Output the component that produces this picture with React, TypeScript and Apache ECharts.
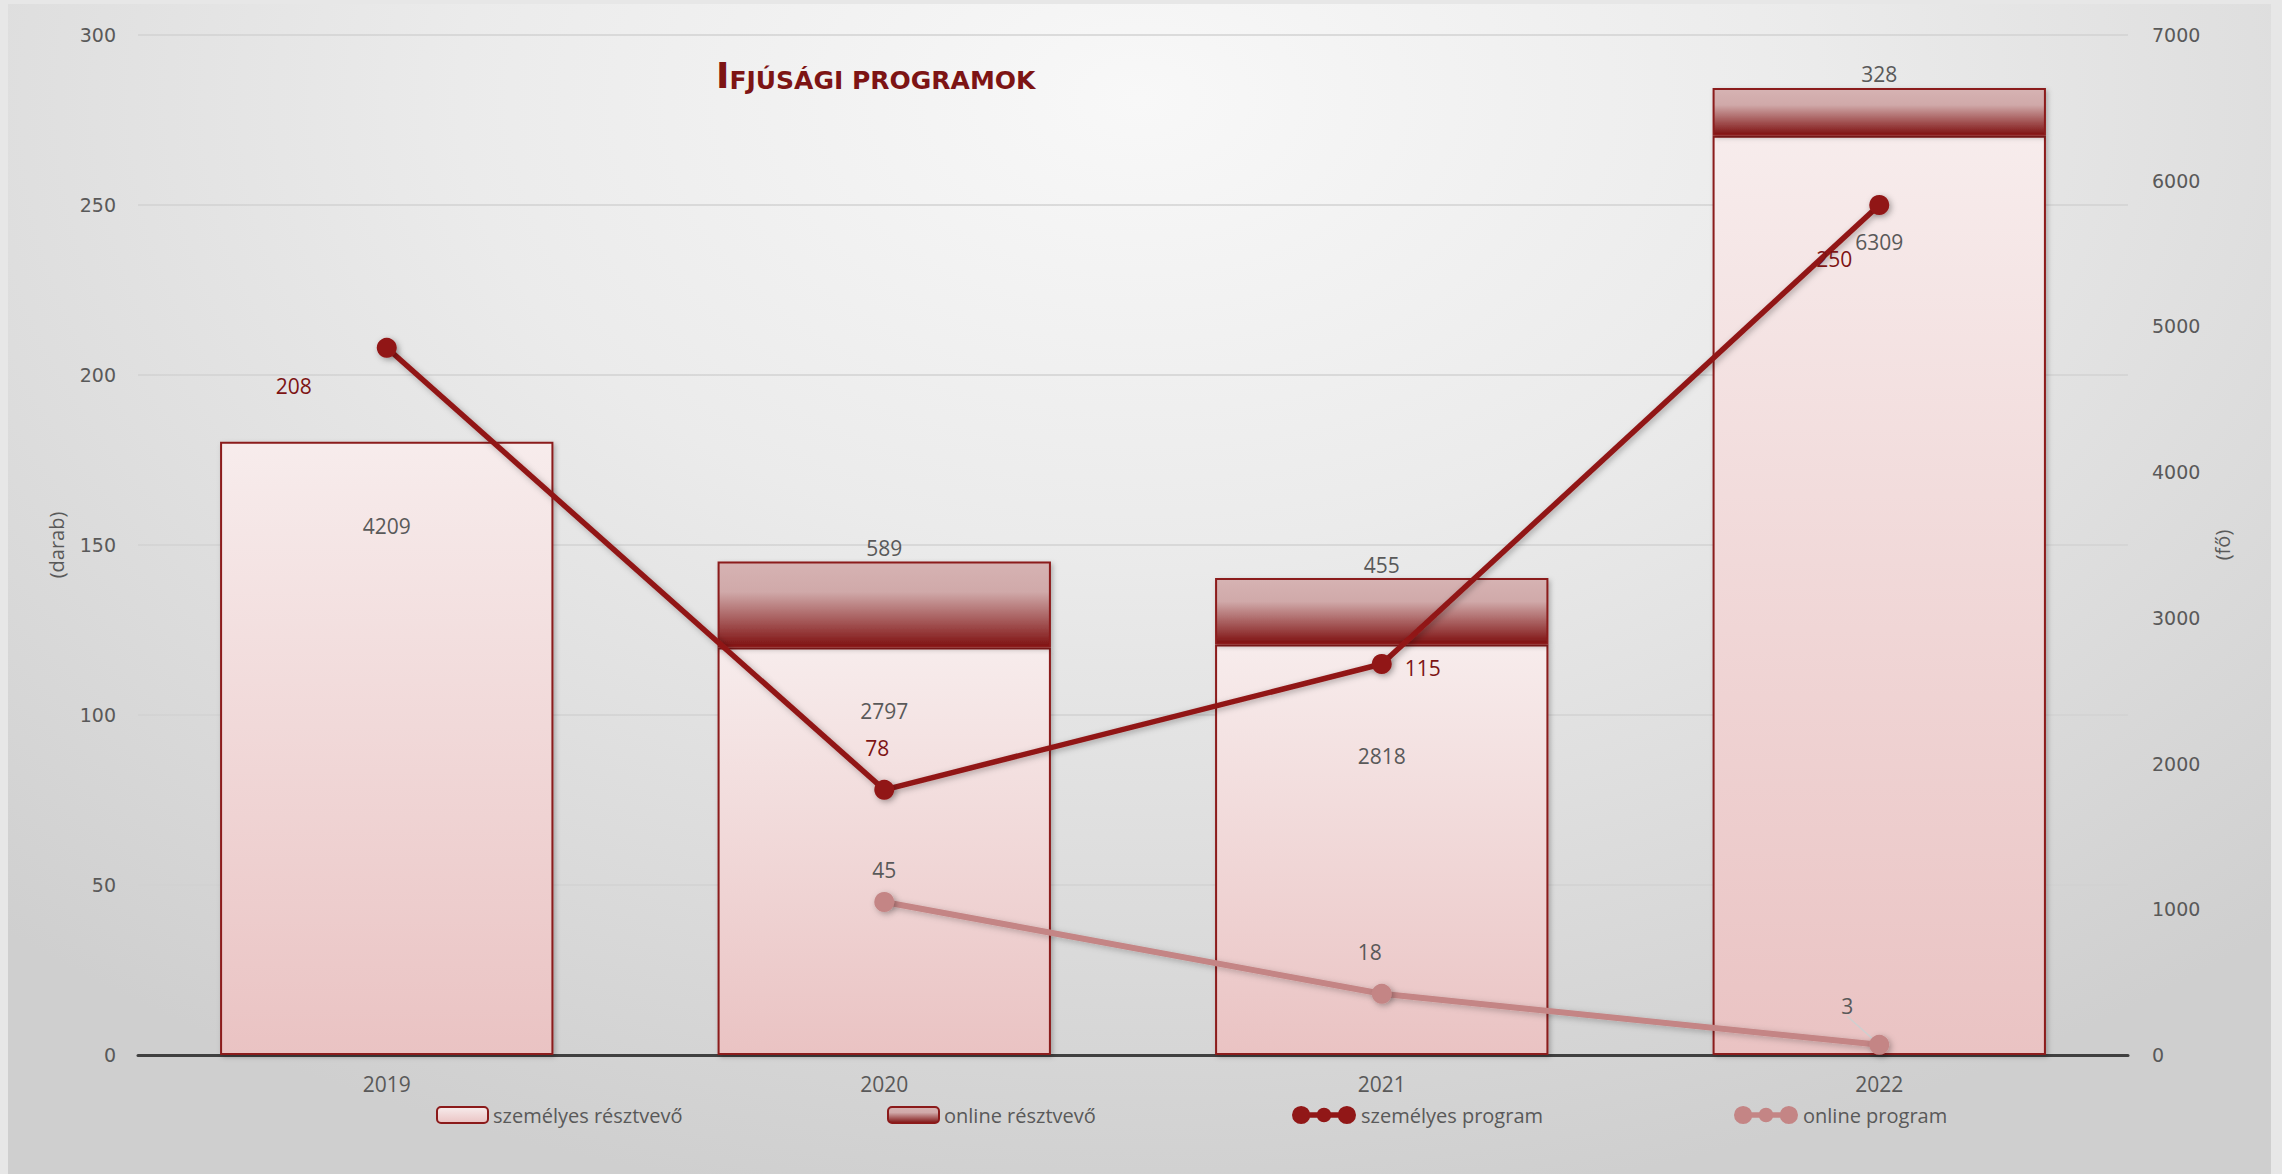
import React, { useEffect, useRef } from "react";
import * as echarts from "echarts";

const years = ["2019", "2020", "2021", "2022"];
const personalParticipants = [4209, 2797, 2818, 6309];
const onlineParticipants = [null, 589, 455, 328];
const personalPrograms = [208, 78, 115, 250];
const onlinePrograms = [null, 45, 18, 3];

const leftAxis = { min: 0, max: 300, interval: 50 };
const rightAxis = { min: 0, max: 7000, interval: 1000 };

// label placement styles (not data)
const personalBarLabelDist = [74, 53, 101, 96];
const personalProgLabelOffset = [[-93, 38], [-7, -42], [41, 4], [-45, 54]];
const onlineProgLabelOffset = [[0, 0], [0, -32], [-12, -42], [-32, -39]];
const onlineProgLeader = [false, false, false, true];

const DARK_RED = "#911717";
const ONLINE_PROG = "#c48585";
const GRAY_TEXT = "#595959";

const lineIcon =
  "path://M0,10a10,10 0 1,0 20,0a10,10 0 1,0 -20,0Z M50,10a10,10 0 1,0 20,0a10,10 0 1,0 -20,0Z M27,10a8,8 0 1,0 16,0a8,8 0 1,0 -16,0Z M10,7v6h50v-6Z";

export default function App() {
  const ref = useRef<HTMLDivElement>(null);

  useEffect(() => {
    document.body.style.margin = "0";
    const chart = echarts.init(ref.current!, null, { renderer: "svg" });

    const personalGrad = new echarts.graphic.LinearGradient(0, 0, 0, 1, [
      { offset: 0, color: "#f7ecec" },
      { offset: 1, color: "#eac3c3" },
    ]);
    const onlineGrad = new echarts.graphic.LinearGradient(0, 0, 0, 1, [
      { offset: 0, color: "#d6b3b3" },
      { offset: 0.35, color: "#d0a9a9" },
      { offset: 1, color: "#7f1212" },
    ]);

    const legendText = { fontFamily: "Open Sans", fontSize: 20, color: GRAY_TEXT };
    const legendBase = { orient: "horizontal", top: 1100, textStyle: legendText, itemGap: 0 };

    const option: any = {
      animation: false,
      backgroundColor: "transparent",
      title: {
        text: "{a|I}{b|FJÚSÁGI PROGRAMOK}",
        left: 711,
        top: 48,
        textStyle: {
          rich: {
            a: { fontFamily: "DejaVu Sans", fontWeight: "bold", fontSize: 36, color: "#7d1414", verticalAlign: "bottom", lineHeight: 40 },
            b: { fontFamily: "DejaVu Sans", fontWeight: "bold", fontSize: 25, color: "#7d1414", verticalAlign: "bottom", lineHeight: 40 },
          },
        },
      },
      grid: { left: 138, right: 154, top: 35, bottom: 119, containLabel: false },
      legend: [
        { ...legendBase, left: 431, itemWidth: 51, itemHeight: 16, data: ["személyes résztvevő"] },
        { ...legendBase, left: 882, itemWidth: 51, itemHeight: 16, data: ["online résztvevő"] },
        { ...legendBase, left: 1287, itemWidth: 64, itemHeight: 19, data: [{ name: "személyes program", icon: lineIcon }] },
        { ...legendBase, left: 1729, itemWidth: 64, itemHeight: 19, data: [{ name: "online program", icon: lineIcon }] },
      ],
      xAxis: {
        type: "category",
        data: years,
        boundaryGap: true,
        axisLine: { lineStyle: { color: "#404040", width: 3 } },
        axisTick: { show: false },
        axisLabel: { fontFamily: "Open Sans", fontSize: 21, color: GRAY_TEXT, margin: 18 },
      },
      yAxis: [
        {
          type: "value",
          ...leftAxis,
          name: "(darab)",
          nameLocation: "middle",
          nameGap: 72,
          nameRotate: 90,
          nameTextStyle: { fontFamily: "Liberation Sans Narrow, Open Sans", fontSize: 20, color: GRAY_TEXT },
          axisLine: { show: false },
          axisTick: { show: false },
          axisLabel: { fontFamily: "DejaVu Sans", fontSize: 19, color: GRAY_TEXT, margin: 22 },
          splitLine: { lineStyle: { color: "#d2d2d2", width: 1.5 } },
        },
        {
          type: "value",
          ...rightAxis,
          position: "right",
          name: "(fő)",
          nameLocation: "middle",
          nameGap: 84,
          nameRotate: 90,
          nameTextStyle: { fontFamily: "Liberation Sans Narrow, Open Sans", fontSize: 20, color: GRAY_TEXT },
          axisLine: { show: false },
          axisTick: { show: false },
          axisLabel: {
            fontFamily: "DejaVu Sans",
            fontSize: 19,
            color: GRAY_TEXT,
            margin: 24,
            formatter: (v: number) => String(v),
          },
          splitLine: { show: false },
        },
      ],
      series: [
        {
          name: "személyes résztvevő",
          type: "bar",
          yAxisIndex: 1,
          stack: "people",
          barWidth: "67%",
          data: personalParticipants.map((v, i) => ({
            value: v,
            label: { distance: personalBarLabelDist[i] },
          })),
          itemStyle: {
            color: personalGrad,
            borderColor: "#8b1a1a",
            borderWidth: 2,
            shadowColor: "rgba(0,0,0,0.25)",
            shadowBlur: 5,
            shadowOffsetX: 2,
            shadowOffsetY: 2,
          },
          label: {
            show: true,
            position: "insideTop",
            fontFamily: "Open Sans",
            fontSize: 21,
            color: GRAY_TEXT,
          },
          z: 2,
        },
        {
          name: "online résztvevő",
          type: "bar",
          yAxisIndex: 1,
          stack: "people",
          barWidth: "67%",
          data: onlineParticipants,
          itemStyle: {
            color: onlineGrad,
            borderColor: "#8b1a1a",
            borderWidth: 2,
            shadowColor: "rgba(0,0,0,0.25)",
            shadowBlur: 5,
            shadowOffsetX: 2,
            shadowOffsetY: 2,
          },
          label: {
            show: true,
            position: "top",
            distance: 3,
            fontFamily: "Open Sans",
            fontSize: 21,
            color: GRAY_TEXT,
          },
          z: 2,
        },
        {
          name: "személyes program",
          type: "line",
          yAxisIndex: 0,
          data: personalPrograms.map((v, i) => ({
            value: v,
            label: { offset: personalProgLabelOffset[i] },
          })),
          symbol: "circle",
          symbolSize: 20,
          lineStyle: {
            color: DARK_RED,
            width: 5.5,
            shadowColor: "rgba(0,0,0,0.3)",
            shadowBlur: 6,
            shadowOffsetX: 2,
            shadowOffsetY: 2,
          },
          itemStyle: {
            color: DARK_RED,
            shadowColor: "rgba(0,0,0,0.35)",
            shadowBlur: 6,
            shadowOffsetX: 2,
            shadowOffsetY: 2,
          },
          label: {
            show: true,
            position: "inside",
            fontFamily: "Open Sans",
            fontSize: 21,
            color: "#7d1414",
          },
          z: 5,
        },
        {
          name: "online program",
          type: "line",
          yAxisIndex: 0,
          data: onlinePrograms.map((v, i) => ({
            value: v,
            labelLine: { show: onlineProgLeader[i] },
          })),
          symbol: "circle",
          symbolSize: 20,
          lineStyle: {
            color: ONLINE_PROG,
            width: 6,
            shadowColor: "rgba(0,0,0,0.25)",
            shadowBlur: 6,
            shadowOffsetX: 2,
            shadowOffsetY: 2,
          },
          itemStyle: {
            color: ONLINE_PROG,
            shadowColor: "rgba(0,0,0,0.3)",
            shadowBlur: 6,
            shadowOffsetX: 2,
            shadowOffsetY: 2,
          },
          label: {
            show: true,
            position: "inside",
            fontFamily: "Open Sans",
            fontSize: 21,
            color: GRAY_TEXT,
          },
          labelLayout: (params: any) => {
            const o = onlineProgLabelOffset[params.dataIndex] || [0, 0];
            return { dx: o[0], dy: o[1] };
          },
          labelLine: { show: false, lineStyle: { color: "#cfcfcf", width: 1.5 } },
          z: 4,
        },
      ],
    };

    chart.setOption(option);
    return () => chart.dispose();
  }, []);

  return (
    <div style={{ position: "absolute", left: 0, top: 0, width: 2282, height: 1174, background: "#e7e7e7", overflow: "hidden" }}>
      <div
        style={{
          position: "absolute",
          left: 8,
          top: 4,
          width: 2263,
          height: 1180,
          background: "radial-gradient(ellipse 75% 95% at 50% 8%, #f8f8f8 0%, #ebebeb 40%, #dddddd 70%, #cfcfcf 100%)",
        }}
      />
      <div ref={ref} style={{ position: "absolute", left: 0, top: 0, width: 2282, height: 1174 }} />
    </div>
  );
}
